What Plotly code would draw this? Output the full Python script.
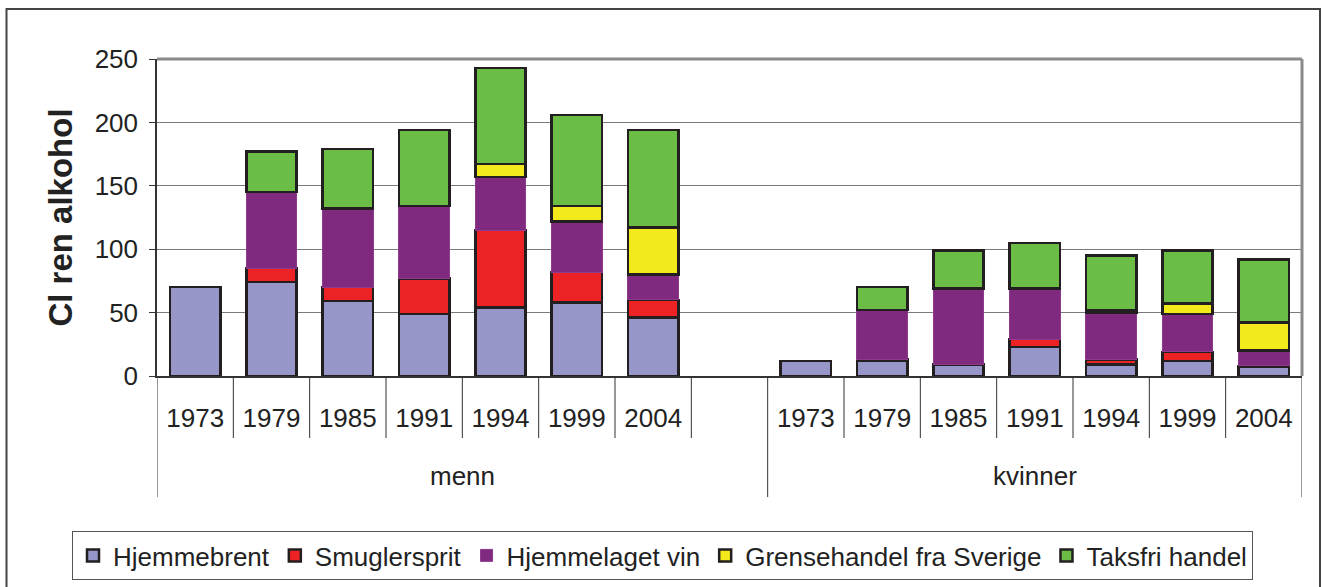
import plotly.graph_objects as go

years = ["1973", "1979", "1985", "1991", "1994", "1999", "2004"]
groups = ["menn", "kvinner"]
series_names = ["Hjemmebrent", "Smuglersprit", "Hjemmelaget vin",
                "Grensehandel fra Sverige", "Taksfri handel"]

# values per series: menn (7 years) then kvinner (7 years)
hjemmebrent_menn = [70, 74, 59, 49, 54, 58, 46]
smuglersprit_menn = [0, 11, 11, 28, 61, 24, 14]
hjemmelaget_vin_menn = [0, 60, 62, 57, 42, 40, 20]
grensehandel_menn = [0, 0, 0, 0, 10, 12, 37]
taksfri_menn = [0, 32, 47, 60, 76, 72, 77]

hjemmebrent_kvinner = [12, 12, 9, 23, 9, 12, 7]
smuglersprit_kvinner = [0, 1, 0, 6, 4, 7, 1]
hjemmelaget_vin_kvinner = [0, 39, 60, 40, 37, 30, 12]
grensehandel_kvinner = [0, 0, 0, 0, 2, 8, 22]
taksfri_kvinner = [0, 18, 30, 36, 43, 42, 50]

colors = ["#9696C8", "#ED2224", "#7F297F", "#F2EA1A", "#6BBD46"]

menn_vals = [hjemmebrent_menn, smuglersprit_menn, hjemmelaget_vin_menn,
             grensehandel_menn, taksfri_menn]
kvinner_vals = [hjemmebrent_kvinner, smuglersprit_kvinner, hjemmelaget_vin_kvinner,
                grensehandel_kvinner, taksfri_kvinner]

# category positions: 7 menn, one empty slot, 7 kvinner
x_menn = list(range(7))
x_kvinner = list(range(8, 15))
xs = x_menn + x_kvinner

FONT = "Arial, Liberation Sans, sans-serif"
fig = go.Figure()
for i, name in enumerate(series_names):
    vals = menn_vals[i] + kvinner_vals[i]
    yv = [v if v > 0 else None for v in vals]
    is_vin = (i == 2)
    fig.add_trace(go.Bar(
        x=xs, y=yv, name=name, width=0.66,
        marker=dict(color=colors[i],
                    line=dict(color="#8E3A8E" if is_vin else "#231F20",
                              width=1 if is_vin else 2.5)),
    ))

L, R, T, B = 157, 1302, 59, 376
W, H = 1322, 587
pw, ph = R - L, B - T


def px_x(p):
    return (p - L) / pw


def px_y(p):
    return (B - p) / ph


shapes = []
# year separators
for k in list(range(1, 8)) + list(range(9, 15)):
    shapes.append(dict(type="line", xref="x", yref="paper", x0=k - 0.5, x1=k - 0.5,
                       y0=0, y1=px_y(438), line=dict(color="#333", width=1)))
# group separators
for xk in [-0.5, 7.5, 14.5]:
    shapes.append(dict(type="line", xref="x", yref="paper", x0=xk, x1=xk,
                       y0=0, y1=px_y(497), line=dict(color="#333", width=1)))
# plot area border top & right (grey)
shapes.append(dict(type="line", xref="paper", yref="paper", x0=0, x1=1, y0=1, y1=1,
                   line=dict(color="#8A8A8A", width=3)))
shapes.append(dict(type="line", xref="paper", yref="paper", x0=1, x1=1, y0=0, y1=1,
                   line=dict(color="#8A8A8A", width=3)))
# outer chart frame
shapes.append(dict(type="rect", xref="paper", yref="paper",
                   x0=px_x(6.5), x1=px_x(1320), y0=px_y(600), y1=px_y(9),
                   line=dict(color="#444", width=2)))

annotations = [
    dict(text=groups[0], x=3.5, xref="x", y=px_y(476), yref="paper",
         yanchor="middle", xanchor="center",
         showarrow=False, font=dict(size=26, color="#222", family=FONT)),
    dict(text=groups[1], x=11, xref="x", y=px_y(476), yref="paper",
         yanchor="middle", xanchor="center",
         showarrow=False, font=dict(size=26, color="#222", family=FONT)),
]

fig.update_layout(
    width=W, height=H,
    margin=dict(l=L, r=W - R, t=T, b=H - B, autoexpand=False),
    barmode="stack", bargap=0.34,
    plot_bgcolor="white", paper_bgcolor="white",
    font=dict(family=FONT, size=26, color="#222"),
    shapes=shapes, annotations=annotations,
    showlegend=True,
    legend=dict(orientation="h", x=px_x(72), xanchor="left",
                y=px_y(531), yanchor="top",
                bordercolor="#555", borderwidth=1,
                font=dict(size=26, family=FONT, color="#222"),
                traceorder="normal", itemwidth=30),
    xaxis=dict(range=[-0.5, 14.5], tickmode="array",
               tickvals=xs, ticktext=years + years,
               showgrid=False, zeroline=False, automargin=False,
               showline=True, linecolor="#333", linewidth=1.5,
               ticks="", ticklabelstandoff=18,
               tickfont=dict(size=26, family=FONT, color="#222")),
    yaxis=dict(range=[0, 250], dtick=50, tick0=0, automargin=False,
               showgrid=True, gridcolor="#7A7A7A", gridwidth=1.2,
               zeroline=False, showline=True, linecolor="#333", linewidth=1.5,
               ticks="outside", ticklen=6, tickcolor="#333",
               ticklabelstandoff=6,
               tickfont=dict(size=26, family=FONT, color="#222")),
)
fig.update_yaxes(title=dict(text="<b>Cl ren alkohol</b>", standoff=12,
                            font=dict(size=33, family=FONT, color="#222")))

fig.write_html("out.html", config={"displayModeBar": False},
               post_script="document.body.style.margin='0';document.body.style.overflow='hidden';")
